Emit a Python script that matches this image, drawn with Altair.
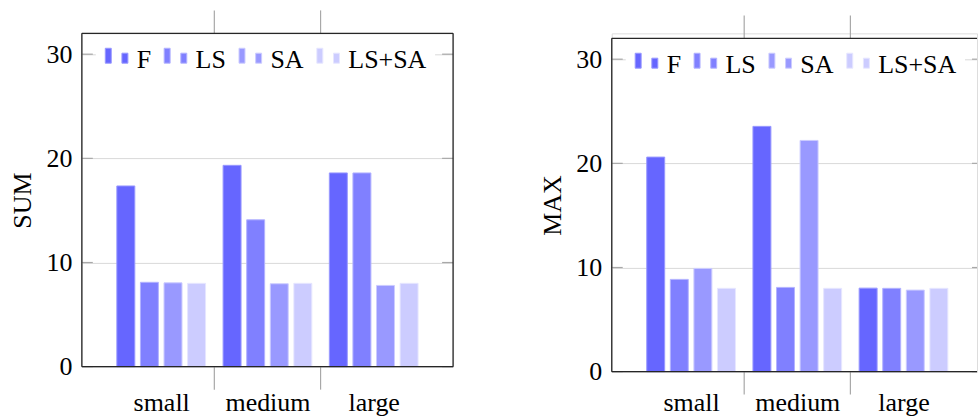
import json
import altair as alt
import pandas as pd

# ---------------- data ----------------
categories = ["small", "medium", "large"]
series = ["F", "LS", "SA", "LS+SA"]

sum_F = [17.35, 19.33, 18.6]
sum_LS = [8.1, 14.1, 18.6]
sum_SA = [8.05, 7.96, 7.8]
sum_LSSA = [8.0, 8.0, 8.0]

max_F = [20.6, 23.55, 8.02]
max_LS = [8.86, 8.09, 8.0]
max_SA = [9.91, 22.2, 7.83]
max_LSSA = [8.0, 8.0, 8.0]

y_ticks = [0, 10, 20, 30]

# ---------------- style ----------------
fills = ["#6666ff", "#8080ff", "#9999ff", "#ccccff"]
strokes = ["#9999ff", "#b3b3ff", "#ccccff", "#e6e6ff"]
FONT = "Liberation Serif"
FS = 26
H = 334
W_LEFT = 372
W_RIGHT = 366
X_MIN = -0.7
UNIT = W_LEFT / 3.4
TICK_COLOR = "#a8a8a8"
FRAME = "#262626"

LEGEND_PATH = ("M-1,-1.05L-0.48,-1.05L-0.48,0.25L-1,0.25Z "
               "M0.45,-0.62L0.97,-0.62L0.97,0.25L0.45,0.25Z")

label_expr = json.dumps(categories) + "[datum.value]"
boundaries = [i + 0.5 for i in range(len(categories) - 1)]


def long_df(cols):
    rows = []
    for si, (name, vals) in enumerate(zip(series, cols)):
        for gi, v in enumerate(vals):
            rows.append({"series": name, "si": si, "gi": gi, "value": v})
    return pd.DataFrame(rows)


def one():
    return pd.DataFrame({"a": [0]})


def panel(title, df, width, xmax, right_frame, off, label_pad):
    xscale = alt.Scale(domain=[X_MIN, xmax], nice=False, zero=False)
    yscale = alt.Scale(domain=[0, 32], nice=False, range=[H + off, off])
    top, bot = off, H + off

    base = alt.Chart(df).transform_calculate(
        pos="datum.gi + (datum.si - 1.5) * 0.222"
    )
    fill_bars = base.mark_bar(size=18).encode(
        x=alt.X("pos:Q", scale=xscale, title=None,
                axis=alt.Axis(values=[0, 1, 2], labelExpr=label_expr,
                              domain=False, ticks=False, tickSize=0, grid=False,
                              labelFont=FONT, labelFontSize=FS, labelColor="black",
                              labelBaseline="alphabetic", labelPadding=label_pad,
                              labelFlush=False, labelOverlap=False)),
        y=alt.Y("value:Q", scale=yscale, title=title,
                axis=alt.Axis(values=y_ticks, domain=False, ticks=False, tickSize=0,
                              grid=True, gridColor="#d9d9d9", gridWidth=1,
                              labelFont=FONT, labelFontSize=FS, labelColor="black",
                              labelPadding=10, titleFont=FONT, titleFontSize=FS,
                              titleFontWeight="normal", titleColor="black",
                              titlePadding=10)),
        color=alt.Color("series:N", scale=alt.Scale(domain=series, range=fills),
                        legend=alt.Legend(title=None, orient="none", legendX=14,
                                          legendY=6 + off, direction="horizontal",
                                          symbolType=LEGEND_PATH, symbolSize=529,
                                          symbolStrokeColor="#222222",
                                          symbolStrokeWidth=1, symbolOpacity=1,
                                          labelFont=FONT, labelFontSize=FS,
                                          labelColor="black", labelOffset=7,
                                          columnPadding=10, padding=8,
                                          fillColor="white")),
    )
    edge_bars = base.mark_bar(size=18, strokeWidth=1, fill="transparent").encode(
        x=alt.X("pos:Q", scale=xscale),
        y=alt.Y("value:Q", scale=yscale),
        stroke=alt.Stroke("series:N", scale=alt.Scale(domain=series, range=strokes),
                          legend=None),
    )

    tdf = pd.DataFrame({"v": y_ticks})
    left_ticks = alt.Chart(tdf).mark_rule(color=TICK_COLOR, strokeWidth=1.2).encode(
        y=alt.Y("v:Q", scale=yscale),
        x=alt.value(0), x2=alt.value(11))
    right_x0 = width - 11 if right_frame else width - 5
    right_ticks = alt.Chart(tdf).mark_rule(color=TICK_COLOR, strokeWidth=1.2).encode(
        y=alt.Y("v:Q", scale=yscale),
        x=alt.value(right_x0), x2=alt.value(width))

    bdf = pd.DataFrame({"b": boundaries})
    top_b = alt.Chart(bdf).mark_rule(color=TICK_COLOR, strokeWidth=1.2).encode(
        x=alt.X("b:Q", scale=xscale),
        y=alt.value(top - 23), y2=alt.value(top))
    bot_b = alt.Chart(bdf).mark_rule(color=TICK_COLOR, strokeWidth=1.2).encode(
        x=alt.X("b:Q", scale=xscale),
        y=alt.value(bot), y2=alt.value(bot + 23))

    frame = [
        alt.Chart(one()).mark_rule(color=FRAME, strokeWidth=1.3).encode(
            x=alt.value(0), x2=alt.value(width), y=alt.value(top)),
        alt.Chart(one()).mark_rule(color=FRAME, strokeWidth=1.3).encode(
            x=alt.value(0), x2=alt.value(width), y=alt.value(bot)),
        alt.Chart(one()).mark_rule(color=FRAME, strokeWidth=1.3).encode(
            x=alt.value(0), y=alt.value(top), y2=alt.value(bot)),
    ]
    if right_frame:
        frame.append(alt.Chart(one()).mark_rule(color=FRAME, strokeWidth=1.3).encode(
            x=alt.value(width), y=alt.value(top), y2=alt.value(bot)))

    layers = [fill_bars, edge_bars, left_ticks, right_ticks, top_b, bot_b] + frame
    return alt.layer(*layers).properties(width=width, height=H + off)


left = panel("SUM", long_df([sum_F, sum_LS, sum_SA, sum_LSSA]),
             W_LEFT, 2.7, True, 0, 44)
right = panel("MAX", long_df([max_F, max_LS, max_SA, max_LSSA]),
              W_RIGHT, X_MIN + W_RIGHT / UNIT, False, 5, 39)

chart = alt.hconcat(left, right, spacing=84).resolve_scale(
    color="independent", stroke="independent"
).properties(
    padding={"left": 9, "top": 8, "right": 0, "bottom": 0}
).configure_view(stroke="transparent").configure(background="white")

chart.save("out.html", embed_options={"renderer": "svg", "actions": False})
